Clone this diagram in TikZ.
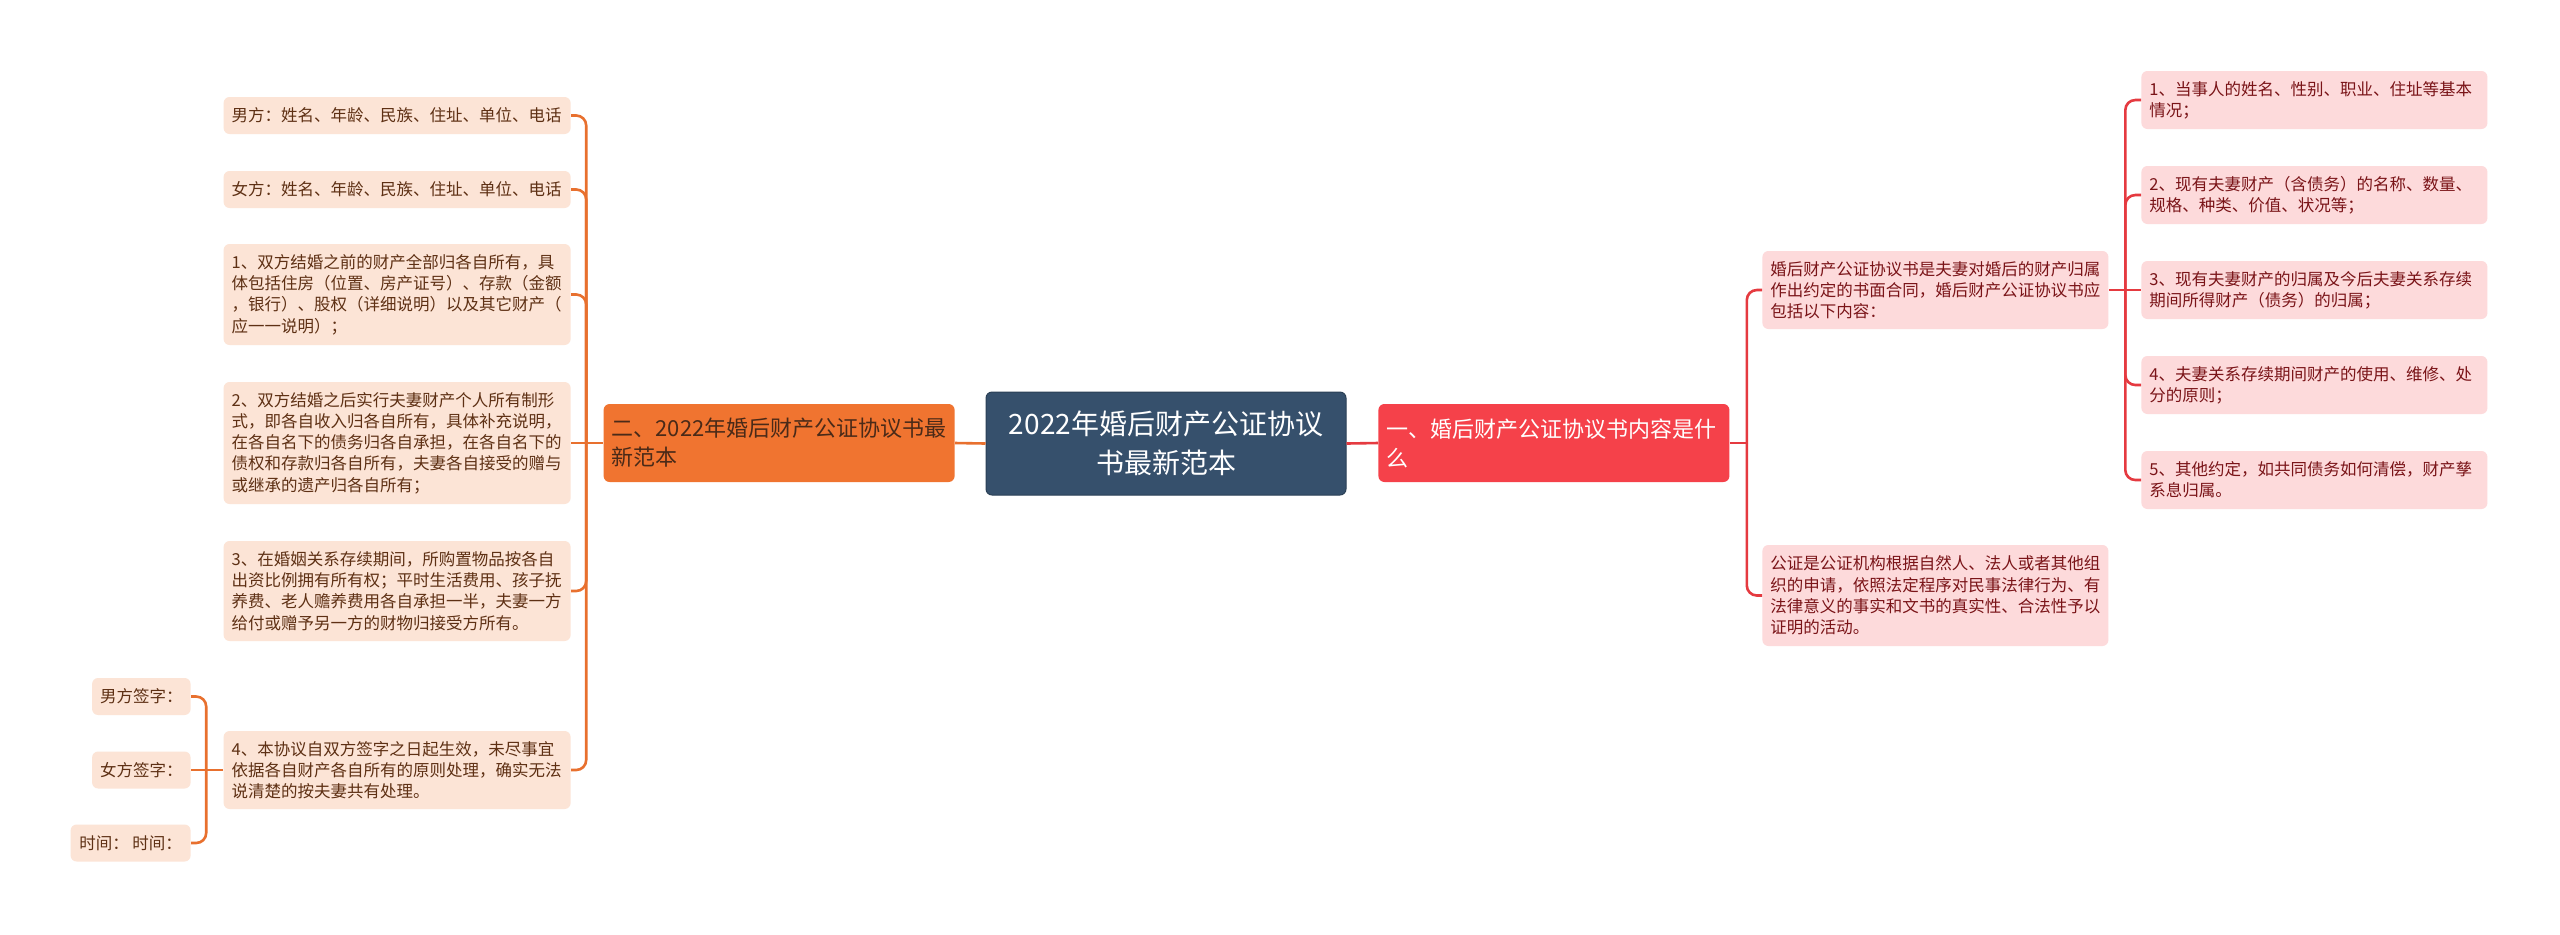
\documentclass[tikz,border=0pt]{standalone}
\usepackage{fontspec}
\setmainfont{Noto Sans CJK SC}
\definecolor{centerfill}{HTML}{36506C}
\definecolor{orangefill}{HTML}{F07430}
\definecolor{orangeline}{HTML}{E8702E}
\definecolor{redfill}{HTML}{F5414A}
\definecolor{redline}{HTML}{E53A40}
\definecolor{peach}{HTML}{FCE4D6}
\definecolor{peachtext}{HTML}{5E3014}
\definecolor{pinkfill}{HTML}{FDDADB}
\definecolor{pinktext}{HTML}{7A1418}
\definecolor{orangetext}{HTML}{4A2A18}
\tikzset{
  leafbase/.style={rounded corners=3pt, inner xsep=4pt, inner ysep=0pt, align=left,
    font=\fontsize{8.25pt}{10.6pt}\selectfont},
  leafL/.style={leafbase, fill=peach, text=peachtext, text width=165.5pt, anchor=east},
  leafS/.style={leafbase, fill=peach, text=peachtext, anchor=east, minimum height=18.5pt},
  leafR/.style={leafbase, fill=pinkfill, text=pinktext, text width=165pt, anchor=west},
  centerbox/.style={rounded corners=3pt, fill=centerfill, draw=centerfill!80!black, line width=0.5pt,
    text=white, align=center, minimum width=180pt, minimum height=51.5pt,
    font=\fontsize{14pt}{19.5pt}\selectfont},
  mainbox/.style={rounded corners=3pt, text width=167.5pt, inner xsep=4pt, align=left,
    minimum height=39pt, font=\fontsize{11pt}{14.5pt}\selectfont},
  oline/.style={draw=orangeline, line width=1.3pt},
  rline/.style={draw=redline, line width=1.3pt},
  roundturn/.style={rounded corners=5pt}
}
\begin{document}
\begin{tikzpicture}[x=0.5pt,y=-0.5pt]
\useasboundingbox (0,0) rectangle (2560,934);
\fill[white] (0,0) rectangle (2560,934);

% centre
\node[centerbox] (ctr) at (1166,443.5) {2022年婚后财产公证协议\\书最新范本};

% main branches
\node[mainbox, fill=orangefill, text=orangetext, anchor=east] (org) at (955,443)
  {二、2022年婚后财产公证协议书最\\新范本};
\node[mainbox, fill=redfill, text=white, anchor=west] (red) at (1378,443)
  {一、婚后财产公证协议书内容是什\\么};

% left leaves
\node[leafL, minimum height=18.5pt] (mA) at (571,115.5) {男方：姓名、年龄、民族、住址、单位、电话};
\node[leafL, minimum height=18.5pt] (mB) at (571,189.5) {女方：姓名、年龄、民族、住址、单位、电话};
\node[leafL, minimum height=50.5pt] (l1) at (571,294.5)
  {1、双方结婚之前的财产全部归各自所有，具\\体包括住房（位置、房产证号）、存款（金额\\，银行）、股权（详细说明）以及其它财产（\\应一一说明）；};
\node[leafL, minimum height=61pt] (l2) at (571,443)
  {2、双方结婚之后实行夫妻财产个人所有制形\\式，即各自收入归各自所有，具体补充说明，\\在各自名下的债务归各自承担，在各自名下的\\债权和存款归各自所有，夫妻各自接受的赠与\\或继承的遗产归各自所有；};
\node[leafL, minimum height=50pt] (l3) at (571,591)
  {3、在婚姻关系存续期间，所购置物品按各自\\出资比例拥有所有权；平时生活费用、孩子抚\\养费、老人赡养费用各自承担一半，夫妻一方\\给付或赠予另一方的财物归接受方所有。};
\node[leafL, minimum height=39pt] (l4) at (571,770)
  {4、本协议自双方签字之日起生效，未尽事宜\\依据各自财产各自所有的原则处理，确实无法\\说清楚的按夫妻共有处理。};

\node[leafS, minimum width=49pt] (s1) at (191,696.5) {男方签字：};
\node[leafS, minimum width=49pt] (s2) at (191,770) {女方签字：};
\node[leafS, minimum width=60pt] (s3) at (191,843) {时间：\ 时间：};

% right leaves
\node[leafR, minimum height=39pt] (r0) at (1762,290)
  {婚后财产公证协议书是夫妻对婚后的财产归属\\作出约定的书面合同，婚后财产公证协议书应\\包括以下内容：};
\node[leafR, minimum height=50.5pt] (r6) at (1762,595.5)
  {公证是公证机构根据自然人、法人或者其他组\\织的申请，依照法定程序对民事法律行为、有\\法律意义的事实和文书的真实性、合法性予以\\证明的活动。};

\node[leafR, minimum height=29pt] (r1) at (2141,100) {1、当事人的姓名、性别、职业、住址等基本\\情况；};
\node[leafR, minimum height=29pt] (r2) at (2141,195) {2、现有夫妻财产（含债务）的名称、数量、\\规格、种类、价值、状况等；};
\node[leafR, minimum height=29pt] (r3) at (2141,290) {3、现有夫妻财产的归属及今后夫妻关系存续\\期间所得财产（债务）的归属；};
\node[leafR, minimum height=29pt] (r4) at (2141,385) {4、夫妻关系存续期间财产的使用、维修、处\\分的原则；};
\node[leafR, minimum height=29pt] (r5) at (2141,480) {5、其他约定，如共同债务如何清偿，财产孳\\系息归属。};

% junction points
\coordinate (jo) at ([xshift=-8.5pt]org.west);
\coordinate (j4) at ([xshift=-8.5pt]l4.west);
\coordinate (jr) at ([xshift=8.5pt]red.east);
\coordinate (j0) at ([xshift=8.25pt]r0.east);

% connectors
\draw[oline] (ctr.west) -- (org.east);
\draw[oline] (org.west) -- (jo);
\foreach \n in {mA,mB,l1,l3,l4}
  \draw[oline, roundturn] (jo) |- (\n.east);
\draw[oline] (jo) -- (l2.east);
\draw[oline] (l4.west) -- (j4);
\foreach \n in {s1,s3}
  \draw[oline, roundturn] (j4) |- (\n.east);
\draw[oline] (j4) -- (s2.east);

\draw[rline] (ctr.east) -- (red.west);
\draw[rline] (red.east) -- (jr);
\foreach \n in {r0,r6}
  \draw[rline, roundturn] (jr) |- (\n.west);
\draw[rline] (r0.east) -- (j0);
\foreach \n in {r1,r2,r4,r5}
  \draw[rline, roundturn] (j0) |- (\n.west);
\draw[rline] (j0) -- (r3.west);
\end{tikzpicture}
\end{document}
